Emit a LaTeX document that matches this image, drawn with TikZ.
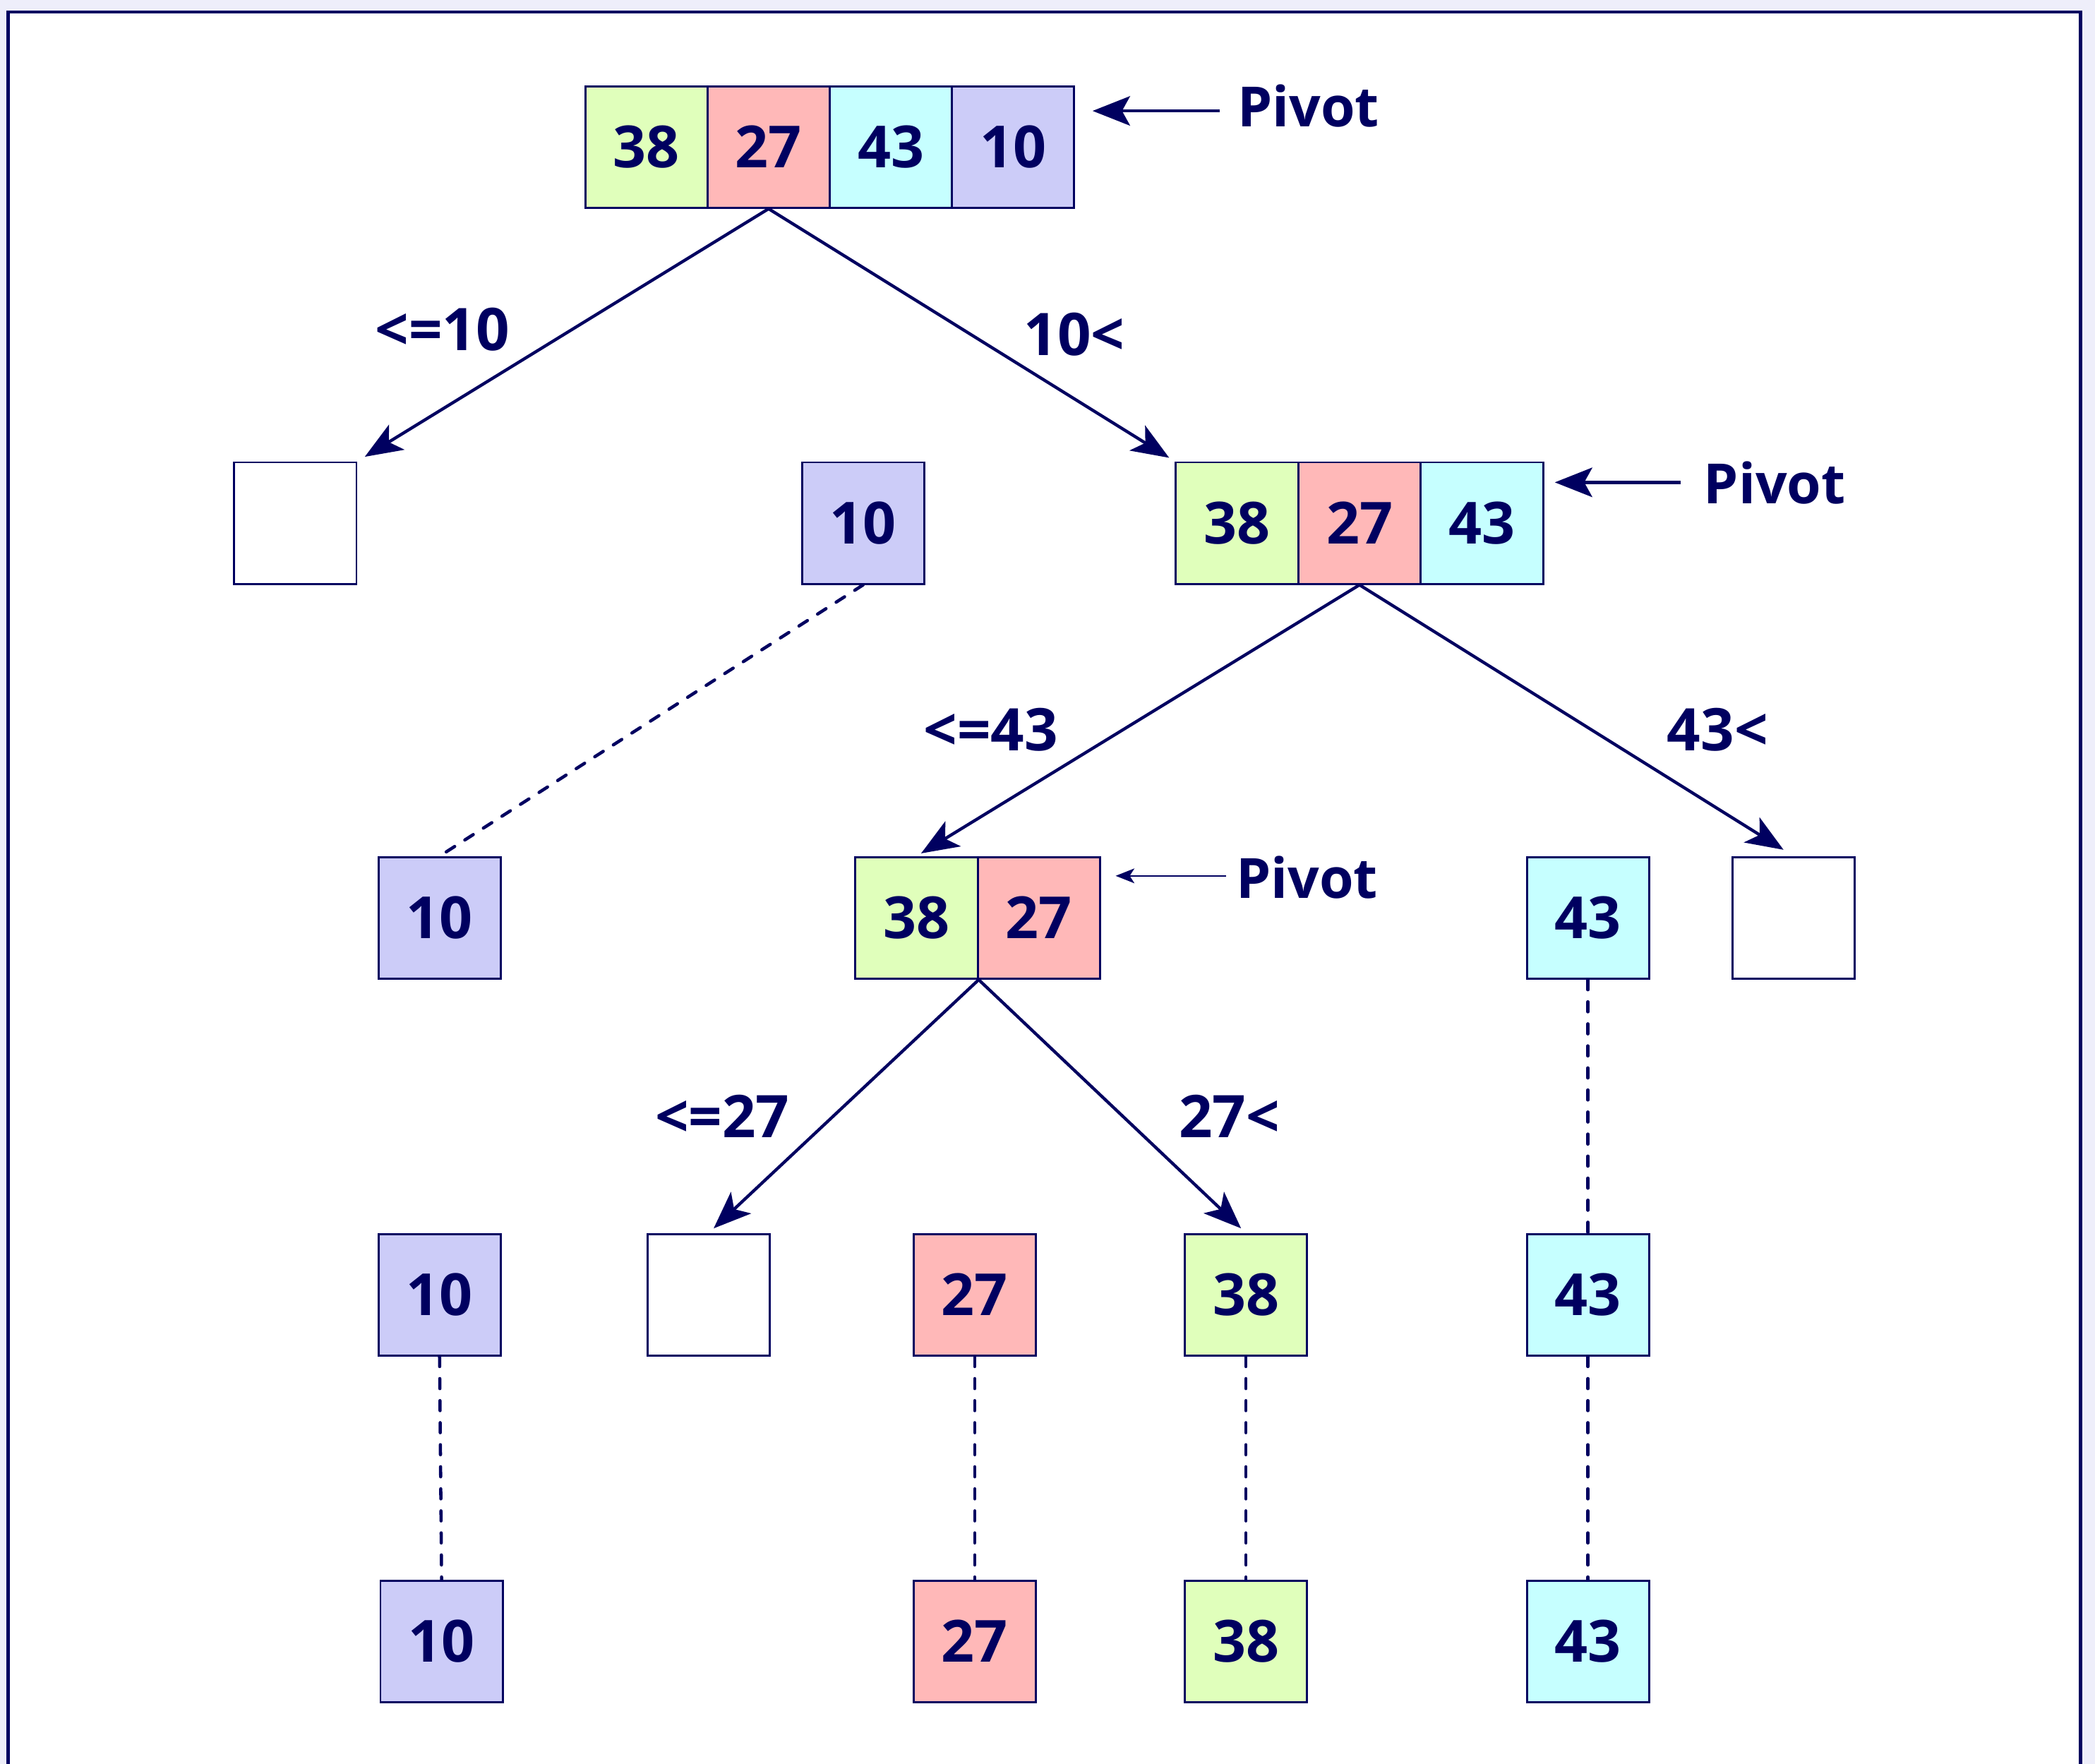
\documentclass[tikz,border=0pt]{standalone}
\usepackage{fontspec}
\setmainfont{Open Sans}
\usetikzlibrary{arrows.meta,calc}
\definecolor{navy}{RGB}{0,0,96}
\definecolor{cgreen}{RGB}{224,255,187}
\definecolor{cpink}{RGB}{255,184,184}
\definecolor{ccyan}{RGB}{198,255,255}
\definecolor{clav}{RGB}{204,204,248}
\definecolor{bglav}{RGB}{238,238,250}
\begin{document}
\begin{tikzpicture}[x=1pt,y=-1pt,
  cell/.style={draw=navy, line width=1.5pt, minimum width=91.5pt, minimum height=91pt, inner sep=0pt, text height=31pt, text depth=0pt, font=\bfseries\fontsize{43.5}{50}\selectfont, text=navy},
  lbl/.style={font=\bfseries\fontsize{44}{50}\selectfont, text=navy, inner sep=0pt, anchor=base},
  pivlbl/.style={font=\bfseries\fontsize{41.5}{50}\selectfont, text=navy, inner sep=0pt, anchor=base west},
  tree/.style={draw=navy, line width=2.3pt, -{Stealth[length=28pt,width=22pt,inset=7pt]}},
  pivbig/.style={draw=navy, line width=2.3pt, -{Stealth[length=28pt,width=22pt,inset=6pt]}},
  pivsmall/.style={draw=navy, line width=1.3pt, -{Stealth[length=14pt,width=11pt,inset=3.5pt]}},
  dline/.style={draw=navy, line width=2.4pt, line cap=round, dash pattern=on 7.5pt off 9pt},
]
\useasboundingbox (0,0) rectangle (1568,1320.2);
\fill[bglav] (0,0) rectangle (1568,1320.2);
\fill[white] (6,9) rectangle (1557,1330);
\draw[navy, line width=2.5pt] (6,1330) -- (6,9) -- (1557,9) -- (1557,1330);

% level 1
\node[cell, fill=cgreen] (t1) at (483.75,110) {38};
\node[cell, fill=cpink]  (t2) at (575.25,110) {27};
\node[cell, fill=ccyan]  (t3) at (666.75,110) {43};
\node[cell, fill=clav]   (t4) at (758.25,110) {10};

% level 2
\node[cell, fill=white] (e1) at (221,391.5) {};
\node[cell, fill=clav] (s10) at (646,391.5) {10};
\node[cell, fill=cgreen] (a1) at (925.8,391.5) {38};
\node[cell, fill=cpink]  (a2) at (1017.5,391.5) {27};
\node[cell, fill=ccyan]  (a3) at (1109.2,391.5) {43};

% level 3
\node[cell, fill=clav] (c10) at (329,687) {10};
\node[cell, fill=cgreen] (b1) at (686,687) {38};
\node[cell, fill=cpink]  (b2) at (777.5,687) {27};
\node[cell, fill=ccyan] (c43) at (1188.5,687) {43};
\node[cell, fill=white] (e2) at (1342.5,687) {};

% level 4
\node[cell, fill=clav] (d10) at (329,969) {10};
\node[cell, fill=white] (e3) at (530.5,969) {};
\node[cell, fill=cpink] (d27) at (729.5,969) {27};
\node[cell, fill=cgreen] (d38) at (932.5,969) {38};
\node[cell, fill=ccyan] (d43) at (1188.5,969) {43};

% level 5
\node[cell, fill=clav] (f10) at (330.5,1228.5) {10};
\node[cell, fill=cpink] (f27) at (729.5,1228.5) {27};
\node[cell, fill=cgreen] (f38) at (932.5,1228.5) {38};
\node[cell, fill=ccyan] (f43) at (1188.5,1228.5) {43};

% tree arrows
\draw[tree, shorten >=6.5pt] (t2.south) -- (e1.north east);
\draw[tree, shorten >=5pt] (t2.south) -- (a1.north west);
\draw[tree, shorten >=4pt] (a2.south) -- (b1.north);
\draw[tree, shorten >=9pt] (a2.south) -- (e2.north);
\draw[tree, shorten >=5pt] (b1.south east) -- (e3.north);
\draw[tree, shorten >=5pt] (b1.south east) -- (d38.north);

% labels
\node[lbl] (l1) at (331,262.5) {<=10};
\node[lbl] (l2) at (804,266) {10<};
\node[lbl] (l3) at (741.5,562) {<=43};
\node[lbl] (l4) at (1285.5,562) {43<};
\node[lbl] (l5) at (540.5,851.5) {<=27};
\node[lbl] (l6) at (920,851.5) {27<};

% dashed
\draw[dline] (s10.south) -- (c10.north);
\draw[dline] (c43.south) -- (d43.north);
\draw[dline] (d10.south) -- (f10.north);
\draw[dline] (d27.south) -- (f27.north);
\draw[dline] (d38.south) -- (f38.north);
\draw[dline] (d43.south) -- (f43.north);

% pivots
\node[pivlbl] (pv1) at (926,95) {Pivot};
\coordinate (q1) at (913,83);
\draw[pivbig, shorten >=13pt] (q1) -- (q1 -| t4.east);
\node[pivlbl] (pv2) at (1275,377) {Pivot};
\coordinate (q2) at (1258,361);
\draw[pivbig, shorten >=8pt] (q2) -- (q2 -| a3.east);
\node[pivlbl] (pv3) at (925,672) {Pivot};
\coordinate (q3) at (917.5,655.5);
\draw[pivsmall, shorten >=11pt] (q3) -- (q3 -| b2.east);
\end{tikzpicture}
\end{document}
